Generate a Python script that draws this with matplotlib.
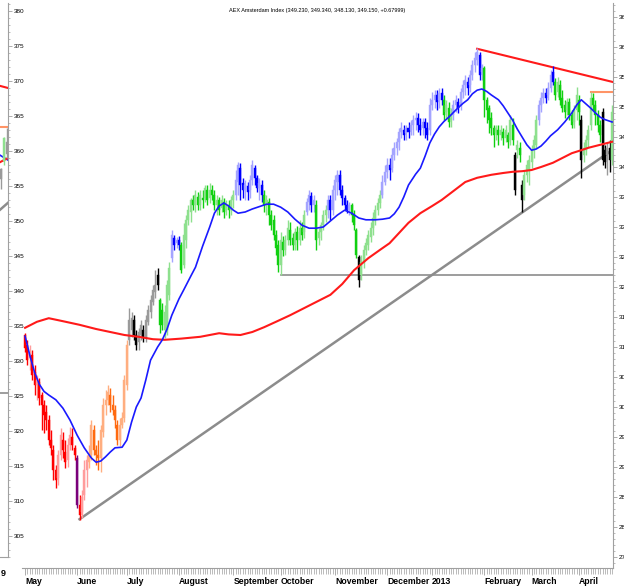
import numpy as np
import pandas as pd
import matplotlib
matplotlib.use("Agg")
import matplotlib.pyplot as plt
from matplotlib.ticker import MultipleLocator

FONT = ["Liberation Sans", "DejaVu Sans"]

# trading days May 2012 - 22 April 2013 (Euronext holidays removed)
holidays = ["2012-05-01", "2012-12-25", "2012-12-26", "2013-01-01", "2013-03-29", "2013-04-01"]
dates = pd.bdate_range("2012-05-01", "2013-04-22")
dates = dates[~dates.isin(pd.to_datetime(holidays))]

month_labels = ["May", "June", "July", "August", "September", "October", "November",
                "December", "2013", "February", "March", "April"]

opens = [
    312.0, 310.3, 308.2, 308.7, 305.8, 303.7, 304.2, 302.0, 300.3, 299.2,
    297.8, 294.5, 292.8, 289.5, 288.2, 292.0, 294.5, 292.5, 291.2, 293.7,
    295.0, 293.2, 291.5, 283.7, 282.5, 285.3, 289.5, 290.8, 292.0, 296.2,
    292.8, 292.0, 291.5, 295.8, 300.3, 301.2, 302.0, 300.3, 299.5, 297.0,
    294.5, 297.0, 298.2, 303.7, 311.2, 312.8, 314.5, 312.0, 310.8, 312.0,
    312.8, 311.5, 314.2, 315.8, 317.5, 319.2, 322.0, 317.8, 316.2, 312.8,
    312.8, 318.7, 324.8, 328.2, 327.3, 327.8, 327.0, 323.7, 327.8, 331.2,
    332.5, 334.5, 333.7, 335.0, 333.7, 334.8, 334.8, 336.2, 334.8, 336.2,
    335.3, 333.7, 334.5, 333.2, 334.2, 332.8, 333.7, 332.8, 334.5, 335.3,
    337.5, 339.8, 337.3, 336.2, 336.8, 336.2, 337.8, 339.8, 338.2, 336.5,
    337.0, 335.3, 333.7, 334.2, 332.0, 331.2, 328.7, 327.0, 323.7, 327.5,
    326.2, 327.8, 329.5, 328.2, 327.0, 329.2, 327.8, 329.8, 329.2, 332.5,
    334.2, 335.2, 333.7, 333.7, 328.2, 329.2, 330.3, 332.0, 332.8, 334.5,
    332.8, 336.2, 337.5, 338.7, 336.2, 334.8, 333.7, 332.8, 333.7, 332.0,
    329.5, 325.0, 322.0, 324.2, 326.2, 327.0, 328.3, 329.8, 331.2, 332.8,
    334.0, 335.3, 337.5, 339.2, 340.3, 339.8, 342.0, 343.2, 344.2, 345.8,
    346.2, 345.7, 346.5, 346.2, 347.0, 347.8, 348.2, 347.0, 346.5, 347.5,
    346.5, 346.2, 350.3, 351.2, 352.0, 351.2, 352.3, 351.2, 349.2, 349.8,
    347.8, 348.7, 350.3, 350.8, 350.3, 352.5, 353.7, 354.2, 353.7, 355.3,
    357.0, 357.8, 358.7, 355.8, 356.5, 351.2, 349.8, 348.2, 346.5, 345.7,
    346.2, 345.3, 345.8, 344.8, 345.3, 344.5, 347.0, 342.0, 342.8, 343.2,
    337.0, 335.3, 338.7, 339.5, 340.8, 342.8, 343.7, 347.8, 350.3, 351.5,
    352.3, 352.0, 353.2, 355.8, 354.2, 352.5, 353.7, 351.5, 350.3, 349.5,
    350.8, 348.7, 347.5, 349.5, 351.2, 347.8, 342.0, 342.8, 344.5, 347.0,
    351.5, 350.3, 348.7, 347.0, 349.2, 342.8, 342.0, 343.2, 341.2,
]
highs = [
    312.3, 311.2, 310.3, 309.5, 307.0, 305.3, 304.8, 302.5, 301.2, 300.3,
    298.7, 296.2, 293.7, 290.3, 292.8, 296.5, 295.8, 294.5, 294.8, 296.7,
    296.5, 293.7, 292.0, 285.3, 286.2, 291.2, 292.0, 293.7, 297.8, 297.0,
    293.7, 294.5, 297.0, 301.5, 302.8, 303.7, 303.2, 302.0, 300.3, 297.8,
    298.2, 299.2, 305.3, 311.2, 316.5, 315.8, 315.3, 312.8, 313.2, 314.5,
    313.7, 315.3, 317.0, 318.7, 320.3, 322.8, 323.2, 318.2, 317.3, 317.0,
    321.2, 324.2, 329.5, 328.7, 328.3, 328.5, 327.5, 330.7, 332.0, 333.7,
    334.8, 335.3, 336.2, 335.8, 336.2, 336.2, 337.0, 337.0, 337.3, 337.0,
    336.2, 335.3, 335.0, 335.3, 334.8, 334.5, 334.5, 335.2, 336.2, 339.5,
    340.8, 340.7, 338.2, 337.8, 337.5, 338.7, 341.2, 340.3, 338.7, 338.2,
    337.8, 336.2, 335.3, 334.8, 332.8, 332.0, 329.5, 327.8, 329.2, 328.5,
    328.7, 331.2, 330.8, 329.0, 329.8, 330.2, 331.2, 330.8, 332.8, 334.8,
    336.2, 335.8, 335.3, 334.5, 329.8, 330.8, 332.8, 333.7, 335.3, 335.3,
    337.0, 338.7, 339.5, 339.5, 337.0, 335.3, 334.5, 334.2, 334.0, 332.8,
    329.8, 325.3, 325.3, 327.0, 328.2, 329.5, 330.8, 332.5, 333.7, 334.8,
    336.2, 338.7, 340.3, 341.5, 341.5, 343.2, 344.2, 344.8, 346.5, 347.5,
    347.0, 347.0, 347.5, 347.8, 348.7, 349.2, 349.0, 348.2, 348.2, 348.2,
    347.5, 351.5, 352.5, 352.8, 352.8, 353.2, 353.2, 352.0, 351.2, 350.8,
    349.8, 351.2, 352.0, 351.5, 353.2, 354.5, 355.3, 355.0, 356.2, 357.8,
    359.2, 359.8, 359.2, 357.2, 356.8, 351.7, 350.3, 349.2, 347.0, 347.0,
    347.0, 347.0, 346.5, 347.0, 345.8, 348.7, 348.2, 342.5, 344.5, 344.2,
    337.8, 339.5, 341.2, 342.0, 343.7, 345.3, 348.7, 351.2, 352.5, 353.2,
    353.2, 354.2, 356.2, 356.8, 354.8, 355.0, 354.5, 352.8, 351.2, 351.5,
    351.5, 349.5, 350.3, 353.3, 352.0, 348.7, 344.2, 345.3, 347.0, 352.5,
    352.3, 351.2, 349.5, 347.8, 349.8, 343.7, 344.0, 344.5, 350.3,
]
lows = [
    309.2, 307.0, 306.2, 304.5, 302.0, 301.2, 300.3, 296.2, 295.7, 296.2,
    293.7, 292.0, 287.8, 286.5, 287.0, 291.2, 291.5, 289.8, 290.0, 292.8,
    292.8, 291.2, 283.2, 281.2, 281.5, 284.5, 286.7, 289.8, 291.2, 292.0,
    290.3, 289.5, 289.2, 295.0, 298.7, 300.3, 299.2, 298.7, 296.5, 293.7,
    293.5, 296.5, 297.5, 302.8, 310.3, 311.7, 311.2, 309.5, 309.5, 311.2,
    310.8, 310.8, 313.7, 314.8, 317.0, 318.2, 319.5, 312.3, 312.8, 311.5,
    312.0, 317.8, 324.2, 326.2, 326.5, 326.2, 322.3, 323.2, 326.5, 330.3,
    330.8, 332.8, 332.5, 332.8, 332.8, 333.2, 334.2, 333.7, 334.0, 334.5,
    332.8, 332.0, 332.0, 332.5, 331.5, 332.0, 331.5, 332.0, 333.2, 334.5,
    335.3, 334.5, 334.8, 334.5, 334.5, 334.8, 337.0, 337.0, 335.8, 334.5,
    334.2, 332.5, 332.0, 330.3, 329.5, 327.8, 325.3, 322.5, 322.0, 325.2,
    325.3, 327.0, 327.0, 326.2, 326.2, 326.2, 327.0, 327.8, 328.2, 332.0,
    332.8, 332.5, 332.5, 326.2, 327.0, 327.8, 329.5, 330.8, 331.5, 331.2,
    332.0, 334.5, 335.3, 335.3, 333.7, 332.8, 332.3, 332.0, 330.8, 329.5,
    324.8, 320.0, 321.2, 323.2, 325.3, 326.2, 327.5, 328.7, 330.3, 332.0,
    333.2, 334.8, 337.0, 338.2, 337.8, 339.2, 341.2, 342.0, 342.8, 344.8,
    344.5, 344.5, 344.8, 345.3, 345.3, 346.2, 345.8, 345.3, 345.3, 344.8,
    344.5, 345.3, 349.5, 349.8, 349.5, 349.8, 350.3, 347.8, 348.2, 346.7,
    346.7, 347.8, 349.2, 349.0, 349.5, 351.5, 352.0, 352.0, 352.5, 354.5,
    355.8, 357.0, 354.5, 354.5, 348.3, 347.3, 345.7, 345.3, 343.3, 344.5,
    343.7, 344.5, 343.7, 344.2, 343.2, 343.7, 343.7, 335.3, 341.5, 340.8,
    332.5, 334.5, 337.5, 337.0, 339.8, 341.5, 343.2, 347.0, 349.2, 350.7,
    350.7, 351.2, 352.5, 353.7, 351.2, 351.7, 350.3, 349.2, 348.2, 348.7,
    347.8, 346.5, 346.5, 347.8, 347.0, 338.2, 340.8, 342.0, 343.3, 346.2,
    349.5, 347.0, 345.8, 344.2, 340.3, 339.8, 338.7, 339.2, 340.3,
]
closes = [
    309.8, 307.8, 309.2, 305.3, 303.7, 304.5, 301.5, 300.3, 298.7, 297.8,
    294.5, 293.2, 289.5, 287.8, 292.0, 295.3, 292.8, 290.8, 293.7, 295.3,
    293.7, 292.0, 283.7, 282.0, 285.0, 289.5, 291.2, 292.0, 297.0, 292.8,
    292.0, 291.5, 296.2, 300.3, 301.2, 302.5, 300.3, 299.5, 297.8, 294.5,
    297.0, 298.2, 304.5, 310.3, 314.5, 314.8, 312.0, 310.3, 312.5, 313.7,
    311.5, 314.5, 316.2, 317.8, 319.5, 320.3, 320.3, 313.7, 313.7, 315.8,
    320.3, 323.2, 328.7, 327.0, 327.8, 327.0, 322.8, 328.7, 331.2, 332.8,
    334.5, 333.7, 335.3, 333.7, 335.3, 334.5, 336.5, 334.5, 336.2, 335.3,
    333.7, 334.5, 332.8, 334.5, 332.5, 333.7, 332.8, 334.5, 335.3, 337.8,
    340.3, 337.0, 336.2, 337.0, 335.8, 337.8, 340.3, 338.2, 336.5, 337.3,
    335.3, 333.7, 334.5, 332.0, 330.3, 328.7, 326.5, 323.7, 327.8, 326.2,
    327.8, 329.8, 327.8, 327.0, 329.2, 327.8, 329.8, 328.7, 332.0, 334.2,
    335.3, 333.7, 334.5, 327.8, 329.2, 330.3, 332.0, 332.8, 334.5, 332.8,
    336.2, 337.8, 338.7, 336.2, 334.8, 333.7, 332.8, 333.7, 332.0, 330.3,
    325.3, 321.2, 324.2, 326.2, 327.3, 328.7, 329.8, 331.5, 332.8, 334.0,
    335.3, 337.5, 339.2, 340.3, 339.5, 342.0, 343.2, 344.2, 345.8, 346.5,
    345.3, 346.5, 345.8, 347.0, 347.8, 348.2, 347.0, 346.2, 347.5, 346.5,
    345.3, 350.3, 351.2, 352.0, 350.8, 352.3, 351.2, 348.7, 350.3, 347.5,
    348.7, 350.3, 351.2, 349.8, 352.5, 353.7, 354.5, 353.2, 355.3, 357.0,
    358.2, 359.2, 355.3, 356.5, 351.2, 349.5, 347.8, 346.5, 345.3, 346.5,
    345.3, 346.2, 344.8, 346.2, 344.2, 347.8, 344.5, 336.2, 343.7, 342.0,
    334.5, 338.7, 340.3, 341.2, 342.8, 344.5, 347.8, 350.3, 351.5, 352.3,
    351.5, 353.2, 355.3, 354.2, 352.0, 354.2, 351.2, 349.8, 349.2, 350.8,
    348.7, 347.0, 349.5, 352.0, 349.2, 341.2, 343.2, 344.5, 346.2, 351.5,
    350.3, 348.7, 347.0, 345.3, 341.2, 340.8, 343.2, 341.2, 349.2,
]

# colour regime of the candles, run-length (regime, number of bars)
regimes = [("red", 22), ("purple", 1), ("red", 4), ("orange", 17), ("black", 13),
           ("green", 5), ("blue", 4), ("green", 23), ("blue", 12), ("green", 18),
           ("blue", 4), ("green", 5), ("blue", 10), ("green", 3), ("black", 1),
           ("green", 9), ("blue", 26), ("green", 4), ("blue", 13), ("green", 13),
           ("black", 1), ("green", 2), ("black", 1), ("green", 6), ("blue", 7),
           ("green", 11), ("black", 1), ("green", 8), ("black", 4), ("green", 1)]

# moving averages (bar index, value)
fast_ma_idx = [0, 2, 4, 6, 8, 10, 13, 16, 19, 22, 25, 28, 30, 32, 34, 36, 38, 41, 43,
               45, 47, 49, 51, 53, 56, 58, 60, 62, 65, 67, 70, 72, 75, 78, 80, 82, 84,
               86, 88, 90, 93, 96, 99, 102, 105, 108, 111, 114, 117, 120, 123, 126,
               129, 132, 135, 138, 141, 144, 148, 151, 154, 156, 158, 160, 162, 165,
               167, 169, 171, 173, 175, 177, 179, 182, 185, 187, 189, 191, 193, 195,
               197, 200, 202, 204, 206, 208, 210, 212, 214, 216, 218, 220, 222, 225,
               228, 231, 233, 235, 237, 239, 241, 243, 245, 248]
fast_ma = [311.8, 308.6, 305.8, 303.8, 302.6, 302.0, 301.2, 299.8, 297.8, 295.3, 293.2,
           291.5, 290.8, 291.0, 291.7, 292.5, 293.2, 293.3, 294.5, 297.5, 300.0, 301.5,
           304.5, 307.8, 310.0, 311.2, 313.0, 315.3, 318.0, 319.5, 321.8, 323.3, 326.8,
           330.0, 332.3, 333.5, 334.0, 333.5, 332.8, 332.3, 332.5, 333.0, 333.4, 333.8,
           333.8, 333.3, 332.5, 331.3, 330.3, 329.8, 329.8, 330.0, 331.0, 332.0, 332.8,
           332.3, 331.5, 331.2, 331.2, 331.3, 331.5, 332.2, 333.3, 335.0, 337.0, 338.8,
           339.8, 341.8, 344.0, 345.5, 346.7, 347.6, 348.3, 349.5, 350.6, 351.2, 352.2,
           352.8, 353.0, 352.6, 352.0, 351.2, 350.2, 349.0, 347.8, 346.3, 345.0, 343.7,
           342.8, 343.0, 343.5, 344.3, 345.2, 346.2, 347.5, 349.0, 350.3, 351.2, 350.5,
           349.8, 349.0, 348.3, 347.9, 347.5]
slow_ma_idx = [0, 5, 10, 16, 23, 30, 36, 42, 48, 54, 59, 66, 74, 82, 86, 91, 96, 101,
               106, 112, 117, 123, 129, 134, 139, 145, 150, 154, 158, 162, 167, 172,
               176, 181, 186, 191, 197, 202, 206, 210, 214, 218, 223, 227, 231, 235,
               238, 243, 248]
slow_ma = [313.2, 314.2, 314.8, 314.3, 313.7, 313.0, 312.5, 312.0, 311.7, 311.3, 311.2,
           311.4, 311.7, 312.3, 312.1, 312.0, 312.5, 313.3, 314.2, 315.3, 316.3, 317.5,
           318.7, 320.5, 322.8, 324.8, 326.2, 327.3, 329.0, 330.7, 332.3, 333.5, 334.5,
           336.0, 337.5, 338.2, 338.7, 339.0, 339.2, 339.3, 339.5, 340.0, 340.7, 341.5,
           342.3, 342.8, 343.2, 343.7, 344.2]

# trend lines (bar index, value)
support_idx, support_val = [23, 248], [281.3, 342.8]
floor_idx, floor_val = [108, 249], [322.0, 322.0]
resist_idx, resist_val = [191, 249], [359.7, 354.1]
top_idx, top_val = [239, 249], [352.5, 352.5]

# end of the neighbouring chart, cut off on the left edge
prev_opens = [356.0, 358.5, 359.6]
prev_highs = [357.5, 362.0, 363.3]
prev_lows = [354.5, 358.0, 359.0]
prev_closes = [357.4, 361.8, 361.3]
prev_regime = ["black", "green", "black"]

title = "AEX Amsterdam Index (349.230, 349.340, 348.130, 349.150, +0.67999)"

COLORS = {
    "red": ("#ff0000", "#ff9c9c"),
    "purple": ("#7a007a", "#b070b0"),
    "orange": ("#ff6a10", "#ffae80"),
    "black": ("#000000", "#9a9a9a"),
    "green": ("#10d010", "#8ee08e"),
    "blue": ("#0000ff", "#a4a4ff"),
}


def draw_candles(ax, xs, o, h, l, c, regs):
    for x, oo, hh, ll, cc, rg in zip(xs, o, h, l, c, regs):
        dark, light = COLORS[rg]
        col = light if cc >= oo else dark
        ax.vlines(x, ll, hh, color=col, linewidth=1.0, zorder=3)
        lo, hi = min(oo, cc), max(oo, cc)
        ax.bar(x, max(hi - lo, 0.25), bottom=lo, width=0.85, color=col,
               edgecolor=col, linewidth=0.3, zorder=4)


def style_price_axis(a):
    for s in ["top", "left"]:
        a.spines[s].set_visible(False)
    a.spines["right"].set_color("#a0a0a0")
    a.spines["bottom"].set_color("#a0a0a0")
    a.yaxis.tick_right()
    a.yaxis.set_major_locator(MultipleLocator(5))
    a.yaxis.set_minor_locator(MultipleLocator(1))
    a.tick_params(axis="y", which="major", length=3, width=0.6, color="#a0a0a0",
                  labelsize=4.6, pad=1)
    a.tick_params(axis="y", which="minor", length=1.5, width=0.5, color="#a0a0a0")
    for lbl in a.get_yticklabels():
        lbl.set_family(FONT)


W, H = 624, 587
fig = plt.figure(figsize=(W / 100, H / 100), dpi=100)

# main chart
ax = fig.add_axes([22 / W, 19 / H, 591 / W, 565 / H])
n = len(closes)
idx = np.arange(n)
regs = [r for r, k in regimes for _ in range(k)]
draw_candles(ax, idx, opens, highs, lows, closes, regs)

ax.plot(slow_ma_idx, slow_ma, color="#ff1a1a", linewidth=1.5, zorder=5)
ax.plot(fast_ma_idx, fast_ma, color="#1a1aff", linewidth=1.2, zorder=5)
ax.plot(support_idx, support_val, color="#8c8c8c", linewidth=1.8, zorder=2)
ax.plot(floor_idx, floor_val, color="#8c8c8c", linewidth=1.2, zorder=2)
ax.plot(resist_idx, resist_val, color="#ff1a1a", linewidth=1.5, zorder=2)
ax.plot(top_idx, top_val, color="#ff9466", linewidth=1.5, zorder=2)

ax.set_xlim(-1.3, 248.4)
ax.set_ylim(273.17, 367.33)
style_price_axis(ax)

month_pos = [int(np.argmax(dates.to_period("M") == p))
             for p in pd.period_range("2012-05", "2013-04", freq="M")]
ax.set_xticks(month_pos)
ax.set_xticklabels(month_labels, family=FONT, fontsize=6.2, fontweight="bold", ha="left")
ax.set_xticks(idx, minor=True)
ax.tick_params(axis="x", which="major", length=5, width=0.6, color="#a0a0a0", pad=1.5)
ax.tick_params(axis="x", which="minor", length=4, width=0.5, color="#a0a0a0")

ax.text(0.5, 0.986, title, transform=ax.transAxes, ha="center", va="center",
        fontsize=4.0, family=FONT)

# neighbouring chart on the left edge
axl = fig.add_axes([0, 30 / H, 8 / W, 554 / H])
draw_candles(axl, [0.5, 1.7, 2.9], prev_opens, prev_highs, prev_lows, prev_closes, prev_regime)
axl.plot([0, 3.4], [369.3, 369.0], color="#ff1a1a", linewidth=1.5)
axl.plot([0, 3.4], [363.4, 363.4], color="#ff9466", linewidth=1.5)
axl.plot([0, 3.4], [359.4, 358.7], color="#1a1aff", linewidth=1.2)
axl.plot([0, 3.4], [358.4, 359.0], color="#ff1a1a", linewidth=1.5)
axl.plot([0, 3.4], [351.6, 352.6], color="#8c8c8c", linewidth=1.8)
axl.plot([0, 3.4], [325.4, 325.4], color="#8c8c8c", linewidth=1.2)
axl.set_xlim(0, 3.4)
axl.set_ylim(302.0, 381.14)
style_price_axis(axl)
axl.set_xticks([])
axl.set_yticks(np.arange(305, 381, 5))
for lbl in axl.get_yticklabels():
    lbl.set_family(FONT)
fig.text(1 / W, 1 - 573 / H, "9", fontsize=6.5, fontweight="bold", family=FONT,
         ha="left", va="center")

fig.savefig("out.png", dpi=100)
